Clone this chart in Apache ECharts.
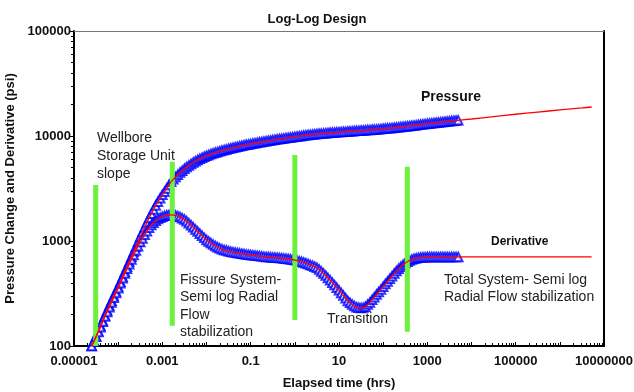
<!DOCTYPE html>
<html>
<head>
<meta charset="utf-8">
<script src="https://cdn.jsdelivr.net/npm/echarts@6/dist/echarts.min.js"></script>
<style>
html,body{margin:0;padding:0;background:#fff;}
#chart{width:634px;height:392px;}
</style>
</head>
<body>
<div id="chart"></div>
<script>
// Elapsed time (hrs) of the measured points
const timeHrs = [
  2.512e-5,2.818e-5,3.162e-5,3.548e-5,3.981e-5,4.467e-5,5.012e-5,5.623e-5,6.310e-5,7.079e-5,7.943e-5,8.913e-5,
  1e-4,1.122e-4,1.259e-4,1.413e-4,1.585e-4,1.778e-4,1.995e-4,2.239e-4,2.512e-4,2.818e-4,3.162e-4,3.548e-4,3.981e-4,4.467e-4,5.012e-4,5.623e-4,6.310e-4,7.079e-4,7.943e-4,8.913e-4,
  1e-3,1.122e-3,1.259e-3,1.413e-3,1.585e-3,1.778e-3,1.995e-3,2.239e-3,2.512e-3,2.818e-3,3.162e-3,3.548e-3,3.981e-3,4.467e-3,5.012e-3,5.623e-3,6.310e-3,7.079e-3,7.943e-3,8.913e-3,
  0.01,0.01122,0.01259,0.01413,0.01585,0.01778,0.01995,0.02239,0.02512,0.02818,0.03162,0.03548,0.03981,0.04467,0.05012,0.05623,0.06310,0.07079,0.07943,0.08913,
  0.1,0.1122,0.1259,0.1413,0.1585,0.1778,0.1995,0.2239,0.2512,0.2818,0.3162,0.3548,0.3981,0.4467,0.5012,0.5623,0.6310,0.7079,0.7943,0.8913,
  1,1.122,1.259,1.413,1.585,1.778,1.995,2.239,2.512,2.818,3.162,3.548,3.981,4.467,5.012,5.623,6.310,7.079,7.943,8.913,
  10,11.22,12.59,14.13,15.85,17.78,19.95,22.39,25.12,28.18,31.62,35.48,39.81,44.67,50.12,56.23,63.10,70.79,79.43,89.13,
  100,112.2,125.9,141.3,158.5,177.8,199.5,223.9,251.2,281.8,316.2,354.8,398.1,446.7,501.2,562.3,631.0,707.9,794.3,891.3,
  1000,1122,1259,1413,1585,1778,1995,2239,2512,2818,3162,3548,3981,4467,5012
];
// Pressure change (psi)
const pressurePsi = [
  100,111,123,138,155,174,195,218,243,270,299,331,
  367,410,457,510,569,635,708,790,881,983,1096,1216,1349,1497,1660,1820,1995,2175,2371,2555,
  2754,2951,3162,3408,3673,3868,4074,4276,4487,4677,4875,5058,5248,5420,5598,5755,5916,6061,6209,6346,
  6486,6607,6730,6839,6950,7055,7161,7261,7362,7456,7551,7638,7727,7816,7907,7989,8072,8156,8241,8318,
  8395,8473,8551,8630,8710,8780,8851,8923,8995,9068,9141,9215,9290,9354,9419,9484,9550,9616,9683,9750,
  9817,9885,9954,10023,10093,10151,10209,10268,10328,10387,10447,10495,10544,10592,10641,10690,10740,10777,10814,10851,
  10889,10927,10965,11003,11041,11079,11117,11155,11194,11233,11272,11311,11350,11389,11429,11468,11508,11561,11614,11668,
  11722,11776,11830,11885,11940,11995,12050,12120,12190,12260,12331,12402,12474,12546,12618,12691,12764,12838,12912,12987,
  13062,13137,13213,13289,13366,13443,13521,13599,13677,13756,13836,13900,13964,14028,14093
];
// Pressure derivative (psi)
const derivativePsi = [
  100,111,123,136,151,170,191,211,234,260,288,320,
  355,396,442,490,543,602,668,737,813,891,977,1059,1148,1238,1334,1417,1496,1562,1622,1666,
  1706,1735,1758,1767,1770,1763,1750,1724,1694,1651,1603,1543,1479,1414,1349,1289,1230,1175,1122,1071,
  1023,988,955,924,895,872,851,836,822,811,800,791,783,776,769,763,757,751,745,740,
  735,730,726,722,718,714,710,706,703,700,698,695,693,690,687,683,679,675,670,664,
  658,651,643,634,624,613,603,592,582,570,556,535,513,490,468,444,422,400,380,359,
  339,320,302,285,269,258,248,240,234,231,230,232,237,248,260,276,292,309,327,346,
  367,389,412,436,462,490,519,543,569,593,617,635,653,666,679,686,692,696,700,702,
  703,704,705,705,705,705,705,705,705,705,705,705,705,705,705
];
// Model extension beyond the measured data
const modelTimeHrs = [10000,31623,100000,316228,1000000,3162278,5250000];
const modelPressurePsi = [14521,15311,16106,16904,17701,18493,18880];
const modelDerivativePsi = [705,705,705,705,705,705,705];

// Flow-regime marker bars
const barTimeHrs = [3.1e-5, 1.68e-3, 1.0, 352];
const barTopPsi = [3413, 5690, 6590, 5100];
const barBottomPsi = [100, 156, 177, 137];

// Axis ticks
const xLabelValues = [1e-5,1e-3,1e-1,10,1000,100000,10000000];
const xLabelText = ['0.00001','0.001','0.1','10','1000','100000','10000000'];
const yLabelValues = [100,1000,10000,100000];
const yLabelText = ['100','1000','10000','100000'];

function decades(lo, hi) {
  const out = [];
  for (let e = lo; e < hi; e++) {
    for (let m = 1; m <= 9; m++) out.push(m * Math.pow(10, e));
  }
  out.push(Math.pow(10, hi));
  return out;
}
const xMajorTicks = decades(-5, 7).filter((v, i) => i % 9 === 0);
const xMinorTicks = decades(-5, 7);
const yMinorTicks = decades(2, 5);

function nearestLabel(vals, texts) {
  return function (v) {
    let best = 0, bd = Infinity;
    for (let i = 0; i < vals.length; i++) {
      const d = Math.abs(Math.log10(v) - Math.log10(vals[i]));
      if (d < bd) { bd = d; best = i; }
    }
    return bd < 0.01 ? texts[best] : '';
  };
}

const FONT = 'Liberation Sans, Arial, sans-serif';
const chart = echarts.init(document.getElementById('chart'), null, {renderer: 'canvas'});

const zip = (xs, ys) => xs.map((x, i) => [x, ys[i]]);
const barSeries = barTimeHrs.map((t, i) => ({
  type: 'line', xAxisIndex: 0, yAxisIndex: 0,
  data: [[t, barBottomPsi[i]], [t, barTopPsi[i]]],
  showSymbol: false, symbol: 'none', silent: true,
  lineStyle: {color: '#6cf23c', width: 5}, z: 3, clip: true
}));

const option = {
  animation: false,
  backgroundColor: '#fff',
  title: {
    text: 'Log-Log Design', left: 'center', top: 8,
    textStyle: {fontFamily: FONT, fontSize: 13, fontWeight: 'bold', color: '#111'}
  },
  grid: {left: 74, right: 30, top: 31, bottom: 46, containLabel: false, outerBoundsMode: 'none'},
  xAxis: [
    {
      type: 'log', logBase: 10, min: 1e-5, max: 1e7, position: 'bottom',
      name: 'Elapsed time (hrs)', nameLocation: 'middle', nameGap: 31,
      nameTextStyle: {fontFamily: FONT, fontSize: 13, fontWeight: 'bold', color: '#111'},
      axisLine: {show: true, onZero: false, lineStyle: {color: '#000', width: 2}},
      axisTick: {show: true, inside: true, length: 4, customValues: xMajorTicks, lineStyle: {color: '#000', width: 1}},
      axisLabel: {show: true, customValues: xLabelValues, formatter: nearestLabel(xLabelValues, xLabelText),
        margin: 9, fontFamily: FONT, fontSize: 13, fontWeight: 'bold', color: '#111'},
      splitLine: {show: false}, minorTick: {show: false}
    },
    {
      type: 'log', logBase: 10, min: 1e-5, max: 1e7, position: 'bottom',
      axisLine: {show: false, onZero: false},
      axisTick: {show: true, inside: true, length: 3, customValues: xMinorTicks, lineStyle: {color: '#000', width: 1}},
      axisLabel: {show: false}, splitLine: {show: false}
    },
    {
      type: 'log', logBase: 10, min: 1e-5, max: 1e7, position: 'top',
      axisLine: {show: true, onZero: false, lineStyle: {color: '#777', width: 1}},
      axisTick: {show: false}, axisLabel: {show: false}, splitLine: {show: false}
    }
  ],
  yAxis: [
    {
      type: 'log', logBase: 10, min: 100, max: 100000, position: 'left',
      name: 'Pressure Change and Derivative (psi)', nameLocation: 'middle', nameGap: 52,
      nameTextStyle: {fontFamily: FONT, fontSize: 13, fontWeight: 'bold', color: '#111'},
      axisLine: {show: true, onZero: false, lineStyle: {color: '#000', width: 2}},
      axisTick: {show: true, inside: false, length: 4, customValues: yLabelValues, lineStyle: {color: '#000', width: 1}},
      axisLabel: {show: true, customValues: yLabelValues, formatter: nearestLabel(yLabelValues, yLabelText),
        margin: 3, fontFamily: FONT, fontSize: 13, fontWeight: 'bold', color: '#111'},
      splitLine: {show: false}
    },
    {
      type: 'log', logBase: 10, min: 100, max: 100000, position: 'left',
      axisLine: {show: false, onZero: false},
      axisTick: {show: true, inside: false, length: 3, customValues: yMinorTicks, lineStyle: {color: '#000', width: 1}},
      axisLabel: {show: false}, splitLine: {show: false}
    },
    {
      type: 'log', logBase: 10, min: 100, max: 100000, position: 'right',
      axisLine: {show: true, onZero: false, lineStyle: {color: '#000', width: 2}},
      axisTick: {show: false}, axisLabel: {show: false}, splitLine: {show: false}
    }
  ],
  series: [
    {
      name: 'Pressure data', type: 'scatter', xAxisIndex: 0, yAxisIndex: 0,
      data: zip(timeHrs, pressurePsi), symbol: 'emptyTriangle', symbolSize: 8.5,
      itemStyle: {color: '#0000ff', borderColor: '#0000ff', borderWidth: 1.6}, z: 2
    },
    {
      name: 'Derivative data', type: 'scatter', xAxisIndex: 0, yAxisIndex: 0,
      data: zip(timeHrs, derivativePsi), symbol: 'emptyTriangle', symbolSize: 8.5,
      itemStyle: {color: '#0000ff', borderColor: '#0000ff', borderWidth: 1.6}, z: 2
    },
    ...barSeries,
    {
      name: 'Pressure model', type: 'line', xAxisIndex: 0, yAxisIndex: 0,
      data: zip(timeHrs.concat(modelTimeHrs), pressurePsi.concat(modelPressurePsi)),
      showSymbol: false, symbol: 'none', smooth: 0.2,
      lineStyle: {color: '#ff0000', width: 1.3}, z: 5
    },
    {
      name: 'Derivative model', type: 'line', xAxisIndex: 0, yAxisIndex: 0,
      data: zip(timeHrs.concat(modelTimeHrs), derivativePsi.concat(modelDerivativePsi)),
      showSymbol: false, symbol: 'none', smooth: 0.2,
      lineStyle: {color: '#ff0000', width: 1.3}, z: 5
    }
  ],
  graphic: [
    {type: 'text', left: 97, top: 129, z: 10, style: {text: 'Wellbore\nStorage Unit\nslope', font: '14px ' + FONT, fill: '#222', lineHeight: 18}},
    {type: 'text', left: 180, top: 271, z: 10, style: {text: 'Fissure System-\nSemi log Radial\nFlow\nstabilization', font: '14px ' + FONT, fill: '#222', lineHeight: 17.5}},
    {type: 'text', left: 327, top: 312, z: 10, style: {text: 'Transition', font: '14px ' + FONT, fill: '#222'}},
    {type: 'text', left: 444, top: 271, z: 10, style: {text: 'Total System- Semi log\nRadial Flow stabilization', font: '14px ' + FONT, fill: '#222', lineHeight: 17.5}},
    {type: 'text', left: 421, top: 90, z: 10, style: {text: 'Pressure', font: 'bold 14px ' + FONT, fill: '#111'}},
    {type: 'text', left: 491, top: 236, z: 10, style: {text: 'Derivative', font: 'bold 12px ' + FONT, fill: '#111'}}
  ]
};
chart.setOption(option);
</script>
</body>
</html>
